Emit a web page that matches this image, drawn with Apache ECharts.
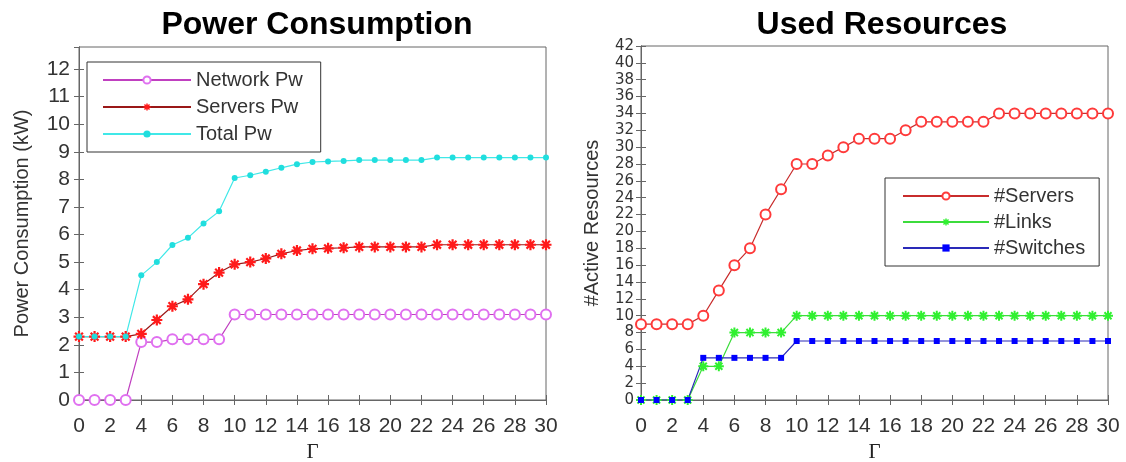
<!DOCTYPE html>
<html>
<head>
<meta charset="utf-8">
<script src="https://cdn.jsdelivr.net/npm/echarts@6/dist/echarts.min.js"></script>
<style>
html, body { margin: 0; padding: 0; background: #fff; }
#main { width: 1126px; height: 462px; }
</style>
</head>
<body>
<div id="main"></div>
<script>
var chartDom = document.getElementById('main');
var myChart = echarts.init(chartDom);

// x values (Gamma)
var gamma = [0,1,2,3,4,5,6,7,8,9,10,11,12,13,14,15,16,17,18,19,20,21,22,23,24,25,26,27,28,29,30];

// left panel: power (kW)
var networkPw = [0,0,0,0,2.1,2.1,2.2,2.2,2.2,2.2,3.1,3.1,3.1,3.1,3.1,3.1,3.1,3.1,3.1,3.1,3.1,3.1,3.1,3.1,3.1,3.1,3.1,3.1,3.1,3.1,3.1];
var serversPw = [2.3,2.3,2.3,2.3,2.4,2.9,3.4,3.65,4.2,4.62,4.92,5.0,5.13,5.3,5.42,5.48,5.5,5.52,5.55,5.55,5.55,5.55,5.55,5.63,5.63,5.63,5.63,5.63,5.63,5.63,5.63];
var totalPw = [2.3,2.3,2.3,2.3,4.52,5.0,5.62,5.88,6.4,6.84,8.05,8.15,8.28,8.42,8.55,8.63,8.65,8.67,8.7,8.7,8.7,8.7,8.7,8.79,8.79,8.79,8.79,8.79,8.79,8.79,8.79];

// right panel: active resources
var servers = [9,9,9,9,10,13,16,18,22,25,28,28,29,30,31,31,31,32,33,33,33,33,33,34,34,34,34,34,34,34,34];
var links = [0,0,0,0,4,4,8,8,8,8,10,10,10,10,10,10,10,10,10,10,10,10,10,10,10,10,10,10,10,10,10];
var switches = [0,0,0,0,5,5,5,5,5,5,7,7,7,7,7,7,7,7,7,7,7,7,7,7,7,7,7,7,7,7,7];

var FONT = "'Liberation Sans', Arial, sans-serif";
var ASTERISK = 'path://M-1,-5L1,-5L1,5L-1,5Z M-5,-1L5,-1L5,1L-5,1Z M-4.24,-2.83L-2.83,-4.24L4.24,2.83L2.83,4.24Z M-2.83,4.24L-4.24,2.83L2.83,-4.24L4.24,-2.83Z';

function pair(ys) {
  return ys.map(function (v, i) { return [gamma[i], v]; });
}

var lineCol = '#666';

function xAx(gi, pos) {
  var main = pos === 'bottom';
  return {
    type: 'value', gridIndex: gi, position: pos,
    min: 0, max: 30, interval: 2,
    name: main ? 'Γ' : '',
    nameLocation: 'middle', nameGap: 42,
    nameTextStyle: { fontFamily: "'Liberation Serif', serif", fontSize: 21, color: '#222' },
    axisLine: { show: true, lineStyle: { color: lineCol } },
    axisTick: { show: true, inside: true, length: 5, lineStyle: { color: lineCol } },
    axisLabel: { show: main, fontSize: 21, color: '#333', fontFamily: FONT, margin: 16 },
    splitLine: { show: false }
  };
}

function yAx(gi, pos, max, step, name, gap, lab) {
  var main = pos === 'left';
  return {
    type: 'value', gridIndex: gi, position: pos,
    min: 0, max: max, interval: step,
    name: main ? name : '',
    nameLocation: 'middle', nameGap: gap,
    nameTextStyle: { fontFamily: FONT, fontSize: 20, color: '#333' },
    axisLine: { show: true, lineStyle: { color: lineCol } },
    axisTick: { show: true, inside: true, length: 5, lineStyle: { color: lineCol } },
    axisLabel: main ? lab : { show: false },
    splitLine: { show: false }
  };
}

var option = {
  animation: false,
  backgroundColor: '#fff',
  title: [
    { text: 'Power Consumption', left: 312, top: 4, textAlign: 'center',
      textStyle: { fontFamily: FONT, fontWeight: 'bold', fontSize: 32, color: '#000' } },
    { text: 'Used Resources', left: 877, top: 4, textAlign: 'center',
      textStyle: { fontFamily: FONT, fontWeight: 'bold', fontSize: 32, color: '#000' } }
  ],
  grid: [
    { left: 79, top: 47, width: 467, height: 353, outerBoundsMode: 'none', containLabel: false,
      show: true, borderColor: lineCol, borderWidth: 1, backgroundColor: '#fff' },
    { left: 641, top: 46, width: 467, height: 354, outerBoundsMode: 'none', containLabel: false,
      show: true, borderColor: lineCol, borderWidth: 1, backgroundColor: '#fff' }
  ],
  xAxis: [xAx(0, 'bottom'), xAx(0, 'top'), xAx(1, 'bottom'), xAx(1, 'top')],
  yAxis: [
    yAx(0, 'left', 12.8, 1, 'Power Consumption (kW)', 47,
      { fontSize: 21, color: '#333', fontFamily: FONT, margin: 9, showMaxLabel: false }),
    yAx(0, 'right', 12.8, 1, '', 0, null),
    yAx(1, 'left', 42, 2, '#Active Resources', 39,
      { fontSize: 15, color: '#333', fontFamily: "'DejaVu Sans', sans-serif", margin: 7, lineHeight: 9 }),
    yAx(1, 'right', 42, 2, '', 0, null)
  ],
  legend: [
    {
      data: ['Network Pw', 'Servers Pw', 'Total Pw'],
      orient: 'vertical', left: 87, top: 62,
      itemWidth: 88, itemHeight: 9, itemGap: 7,
      padding: [8, 18, 8, 15],
      borderColor: '#333', borderWidth: 1, backgroundColor: '#fff',
      textStyle: { fontFamily: FONT, fontSize: 20, color: '#333' },
      selectedMode: false
    },
    {
      data: ['#Servers', '#Links', '#Switches'],
      orient: 'vertical', left: 885, top: 178,
      itemWidth: 86, itemHeight: 9, itemGap: 6,
      padding: [8, 14, 8, 17],
      borderColor: '#333', borderWidth: 1, backgroundColor: '#fff',
      textStyle: { fontFamily: FONT, fontSize: 20, color: '#333' },
      selectedMode: false
    }
  ],
  series: [
    { name: 'Network Pw', type: 'line', xAxisIndex: 0, yAxisIndex: 0, data: pair(networkPw),
      symbol: 'emptyCircle', symbolSize: 10,
      lineStyle: { color: '#c040c0', width: 1.2 },
      itemStyle: { color: '#e070f0', borderColor: '#e070f0', borderWidth: 1.3 } },
    { name: 'Servers Pw', type: 'line', xAxisIndex: 0, yAxisIndex: 0, data: pair(serversPw),
      symbol: ASTERISK, symbolSize: 11,
      lineStyle: { color: '#9a1818', width: 1.2 },
      itemStyle: { color: '#ff1a1a' } },
    { name: 'Total Pw', type: 'line', xAxisIndex: 0, yAxisIndex: 0, data: pair(totalPw),
      symbol: 'circle', symbolSize: 6,
      lineStyle: { color: '#40e8e8', width: 1.2 },
      itemStyle: { color: '#20dede' } },

    { name: '#Servers', type: 'line', xAxisIndex: 2, yAxisIndex: 2, data: pair(servers),
      symbol: 'emptyCircle', symbolSize: 10,
      lineStyle: { color: '#c82c2c', width: 1.2 },
      itemStyle: { color: '#ff3a3a', borderColor: '#ff3a3a', borderWidth: 1.3 } },
    { name: '#Links', type: 'line', xAxisIndex: 2, yAxisIndex: 2, data: pair(links),
      symbol: ASTERISK, symbolSize: 10,
      lineStyle: { color: '#3cdc3c', width: 1.2 },
      itemStyle: { color: '#30f030' } },
    { name: '#Switches', type: 'line', xAxisIndex: 2, yAxisIndex: 2, data: pair(switches),
      symbol: 'rect', symbolSize: 6,
      lineStyle: { color: '#2a2ab8', width: 1.2 },
      itemStyle: { color: '#0000ff' } }
  ]
};

option && myChart.setOption(option);
</script>
</body>
</html>
